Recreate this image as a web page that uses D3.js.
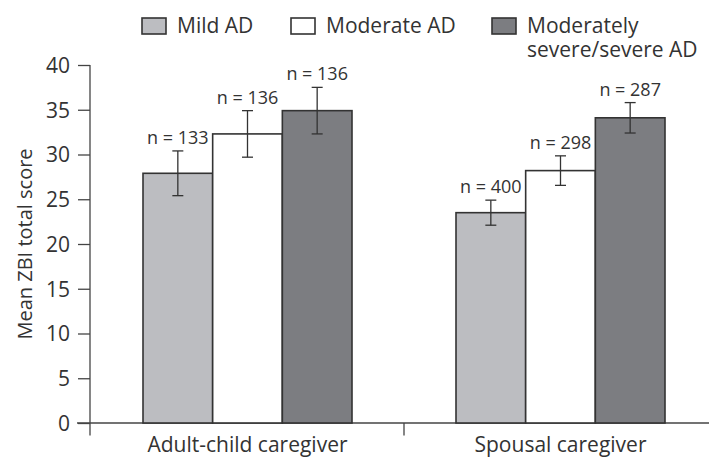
<!DOCTYPE html>
<html>
<head>
<meta charset="utf-8">
<script src="https://cdn.jsdelivr.net/npm/d3@7"></script>
<style>
  html, body { margin: 0; padding: 0; background: #fff; }
  svg { display: block; }
  text { font-family: "Open Sans", "Noto Sans", sans-serif; fill: #333; }
</style>
</head>
<body>
<svg id="chart" width="709" height="459"></svg>
<script>
// ---- data ----
const groups = ["Adult-child caregiver", "Spousal caregiver"];
const severities = ["Mild AD", "Moderate AD", "Moderately severe/severe AD"];
const legendLines = [["Mild AD"], ["Moderate AD"], ["Moderately", "severe/severe AD"]];
const means = [
  [27.9, 32.3, 34.9],   // Adult-child caregiver
  [23.5, 28.2, 34.1]    // Spousal caregiver
];
const errors = [
  [2.5, 2.6, 2.6],
  [1.4, 1.65, 1.7]
];
const nLabels = [
  ["n = 133", "n = 136", "n = 136"],
  ["n = 400", "n = 298", "n = 287"]
];
const yTicks = [0, 5, 10, 15, 20, 25, 30, 35, 40];
const yLabel = "Mean ZBI total score";
const fills = ["#bcbdc1", "#ffffff", "#7c7d81"];

// ---- layout ----
const svg = d3.select("#chart");
const W = 709;
const y = d3.scaleLinear().domain([0, 40]).range([423, 65]);
const x0 = d3.scaleBand().domain(groups).range([91, 717]).paddingInner(0).paddingOuter(0);
const x1 = d3.scaleBand().domain(severities).range([52, 261]).padding(0);

const rows = [];
groups.forEach((g, gi) => severities.forEach((s, si) => {
  rows.push({ g, s, gi, si, v: means[gi][si], e: errors[gi][si], n: nLabels[gi][si] });
}));

// y axis
const yAxis = svg.append("g")
  .attr("transform", `translate(90,0)`)
  .call(d3.axisLeft(y).tickValues(yTicks).tickSize(12).tickSizeOuter(0).tickPadding(8));
yAxis.select(".domain").remove();
yAxis.selectAll(".tick line").attr("stroke", "#444").attr("stroke-width", 1.3);
yAxis.selectAll(".tick text")
  .style("font-size", "21px").attr("fill", "#333")
  .attr("dy", "0.35em");
svg.append("line")
  .attr("x1", 90).attr("x2", 90)
  .attr("y1", y(40)).attr("y2", y(0) + 12.5)
  .attr("stroke", "#444").attr("stroke-width", 1.3);

// x axis line
svg.append("line")
  .attr("x1", 77).attr("x2", W)
  .attr("y1", y(0)).attr("y2", y(0))
  .attr("stroke", "#444").attr("stroke-width", 1.3);
// category separator ticks
groups.slice(1).forEach(g => {
  svg.append("line")
    .attr("x1", x0(g)).attr("x2", x0(g))
    .attr("y1", y(0)).attr("y2", y(0) + 12.5)
    .attr("stroke", "#444").attr("stroke-width", 1.3);
});
// category labels
svg.append("g").selectAll("text").data(groups).join("text")
  .attr("x", d => x0(d) + x1.range()[0] + (x1.range()[1] - x1.range()[0]) / 2)
  .attr("y", 452)
  .attr("text-anchor", "middle")
  .style("font-size", "21px")
  .text(d => d);

// y label
svg.append("text")
  .attr("transform", `translate(32,${(y(0) + y(40)) / 2}) rotate(-90)`)
  .attr("text-anchor", "middle")
  .style("font-size", "20px")
  .text(yLabel);

// bars
svg.append("g").selectAll("rect").data(rows).join("rect")
  .attr("x", d => x0(d.g) + x1(d.s))
  .attr("y", d => y(d.v))
  .attr("width", x1.bandwidth())
  .attr("height", d => y(0) - y(d.v))
  .attr("fill", d => fills[d.si])
  .attr("stroke", "#333")
  .attr("stroke-width", 1.6);

// error bars
const eb = svg.append("g").selectAll("g").data(rows).join("g")
  .attr("transform", d => `translate(${x0(d.g) + x1(d.s) + x1.bandwidth() / 2},0)`);
eb.append("line")
  .attr("y1", d => y(d.v + d.e)).attr("y2", d => y(d.v - d.e))
  .attr("stroke", "#333").attr("stroke-width", 1.3);
eb.append("line")
  .attr("x1", -5.5).attr("x2", 5.5)
  .attr("y1", d => y(d.v + d.e)).attr("y2", d => y(d.v + d.e))
  .attr("stroke", "#333").attr("stroke-width", 1.3);
eb.append("line")
  .attr("x1", -5.5).attr("x2", 5.5)
  .attr("y1", d => y(d.v - d.e)).attr("y2", d => y(d.v - d.e))
  .attr("stroke", "#333").attr("stroke-width", 1.3);
eb.append("text")
  .attr("y", d => y(d.v + d.e) - 7)
  .attr("text-anchor", "middle")
  .style("font-size", "18px")
  .text(d => d.n);

// legend
const legendX = [142, 291, 492];
const leg = svg.append("g").selectAll("g").data(severities).join("g")
  .attr("transform", (d, i) => `translate(${legendX[i]},18)`);
leg.append("rect")
  .attr("width", 24).attr("height", 16)
  .attr("fill", (d, i) => fills[i])
  .attr("stroke", "#333").attr("stroke-width", 1.6);
leg.each(function(d, i) {
  d3.select(this).selectAll("text").data(legendLines[i]).join("text")
    .attr("x", 35)
    .attr("y", (t, j) => 15 + j * 24)
    .style("font-size", "21px")
    .text(t => t);
});
</script>
</body>
</html>
